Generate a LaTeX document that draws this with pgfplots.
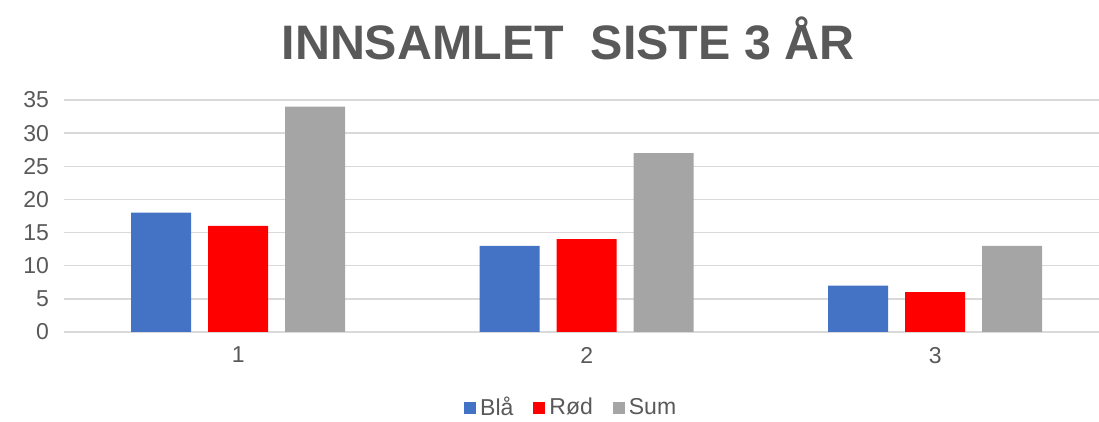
\documentclass[border=0pt]{standalone}
\usepackage{pgfplots}
\pgfplotsset{compat=1.18}
\usepackage{fontspec}
\setmainfont{Liberation Sans}
\definecolor{txt}{HTML}{595959}
\definecolor{grd}{HTML}{D9D9D9}
\definecolor{cbla}{HTML}{4472C4}
\definecolor{crod}{HTML}{FF0000}
\definecolor{csum}{HTML}{A5A5A5}
\begin{document}
\begin{tikzpicture}
\path[use as bounding box] (-32pt,-45pt) rectangle (517.5pt,166pt);
\begin{axis}[
  scale only axis, width=517.5pt, height=116pt,
  xmin=0.5, xmax=3.47, ymin=0, ymax=35,
  ybar=8.5pt, bar width=30pt,
  xtick={1,2,3}, ytick={0,5,...,35},
  major tick length=0,
  axis x line*=bottom, axis y line*=left,
  x axis line style={draw=grd, line width=0.75pt},
  y axis line style={draw=none},
  ymajorgrids, grid style={draw=grd, line width=0.75pt},
  tick label style={font=\fontsize{11.5}{14}\selectfont, text=txt},
  /pgf/number format/assume math mode=true,
  yticklabel style={xshift=-4pt},
  xticklabel style={yshift=-4pt},
  legend style={at={(0.491,-0.245)}, anchor=north, draw=none,
    font=\fontsize{11.5}{13}\selectfont, text=txt,
    legend columns=-1, /tikz/every even column/.append style={column sep=8pt}},
  legend image code/.code={\fill[#1] (0pt,-3pt) rectangle (6pt,3pt);},
  clip=false,
]
\addplot[draw=none, fill=cbla] coordinates {(1,18) (2,13) (3,7)};
\addplot[draw=none, fill=crod] coordinates {(1,16) (2,14) (3,6)};
\addplot[draw=none, fill=csum] coordinates {(1,34) (2,27) (3,13)};
\legend{Blå,Rød,Sum}
\node[anchor=base, text=txt, font=\bfseries\fontsize{24.2}{28}\selectfont]
  at (rel axis cs:0.487,1) [yshift=20pt] {INNSAMLET\ \ SISTE 3 ÅR};
\end{axis}
\end{tikzpicture}
\end{document}
